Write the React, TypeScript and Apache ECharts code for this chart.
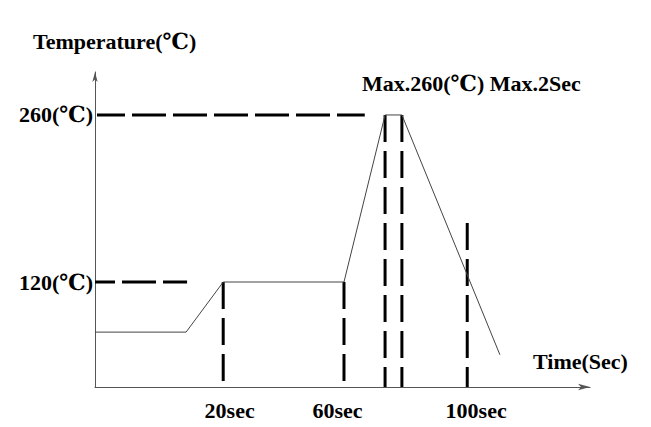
import React, { useEffect, useRef } from "react";
import * as echarts from "echarts";

// Profile (x in arbitrary time units along the axis, y in °C)
const profileTime = [0, 18.4, 25.9, 50.3, 58.6, 62.0, 81.8];
const profileTemp = [78, 78, 120, 120, 260, 260, 59];

// Dashed guide lines, drawn from their first point: [x1, y1, x2, y2]
const hGuides = [
  [0.4, 260, 54.5, 260],
  [0.0, 120, 18.6, 120],
];
const hGuideOffsets = [6, 14];
const vGuides = [
  [25.9, 120, 25.9, 32],
  [50.3, 120, 50.3, 32],
  [58.6, 260, 58.6, 32],
  [62.0, 260, 62.0, 32],
  [75.2, 169.5, 75.2, 32],
];

// Tick labels
const xLabelPos = [27.2, 49, 77];
const xLabelText = ["20sec", "60sec", "100sec"];
const yLabelPos = [120, 260];
const yLabelText = ["120(℃)", "260(℃)"];

const FONT = "'Liberation Serif', 'DejaVu Serif', serif";

export default function App() {
  const ref = useRef<HTMLDivElement>(null);
  useEffect(() => {
    const chart = echarts.init(ref.current!, null, { renderer: "svg" });
    const guideSeries = (g: number[], dash: number[], width: number, offset: number) => ({
      type: "line",
      data: [
        [g[0], g[1]],
        [g[2], g[3]],
      ],
      symbol: "none",
      silent: true,
      lineStyle: { color: "#000", width, type: dash, dashOffset: offset, cap: "butt" },
      z: 3,
    });
    chart.setOption({
      animation: false,
      backgroundColor: "#fff",
      grid: { left: 95, top: 72, right: 61, bottom: 40 },
      xAxis: {
        type: "value",
        min: 0,
        max: 100,
        splitLine: { show: false },
        axisTick: { show: false },
        axisLine: {
          lineStyle: { color: "#555", width: 1 },
          symbol: ["none", "arrow"],
          symbolSize: [5, 12],
        },
        axisLabel: {
          customValues: xLabelPos,
          formatter: (v: number) => {
            const i = xLabelPos.findIndex((p) => Math.abs(p - v) < 1e-6);
            return i >= 0 ? xLabelText[i] : "";
          },
          color: "#000",
          fontFamily: FONT,
          fontSize: 22,
          fontWeight: "bold",
          margin: 12,
        },
      },
      yAxis: {
        type: "value",
        min: 32,
        max: 296,
        splitLine: { show: false },
        axisTick: { show: false },
        axisLine: {
          show: true,
          lineStyle: { color: "#555", width: 1 },
          symbol: ["none", "arrow"],
          symbolSize: [4, 10],
        },
        axisLabel: {
          customValues: yLabelPos,
          formatter: (v: number) => {
            const i = yLabelPos.findIndex((p) => Math.abs(p - v) < 1e-6);
            return i >= 0 ? yLabelText[i] : "";
          },
          color: "#000",
          fontFamily: FONT,
          fontSize: 22,
          fontWeight: "bold",
          margin: 2,
        },
      },
      series: [
        {
          type: "line",
          data: profileTime.map((t, i) => [t, profileTemp[i]]),
          symbol: "none",
          lineStyle: { color: "#444", width: 1 },
          z: 4,
        },
        ...hGuides.map((g, i) => guideSeries(g, [34, 7], 3, hGuideOffsets[i])),
        ...vGuides.map((g) => guideSeries(g, [27, 9], 3, 0)),
      ],
      graphic: [
        {
          type: "text",
          left: 33,
          top: 30,
          style: {
            text: "Temperature(℃)",
            font: `bold 22px ${FONT}`,
            fill: "#000",
          },
        },
        {
          type: "text",
          left: 362,
          top: 72,
          style: {
            text: "Max.260(℃) Max.2Sec",
            font: `bold 22px ${FONT}`,
            fill: "#000",
          },
        },
        {
          type: "text",
          left: 533,
          top: 350,
          style: {
            text: "Time(Sec)",
            font: `bold 22px ${FONT}`,
            fill: "#000",
          },
        },
      ],
    });
    return () => chart.dispose();
  }, []);
  return (
    <div
      ref={ref}
      style={{ position: "fixed", left: 0, top: 0, width: 651, height: 427 }}
    />
  );
}
